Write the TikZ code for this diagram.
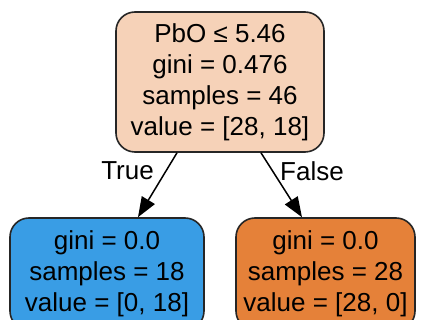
\documentclass[tikz,border=0pt]{standalone}
\usepackage{fontspec}
\setmainfont{Liberation Sans}
\usetikzlibrary{arrows.meta}
\definecolor{rootfill}{RGB}{246,210,184}
\definecolor{truefill}{RGB}{57,157,229}
\definecolor{falsefill}{RGB}{229,129,57}
\tikzset{
    treenode/.style={draw=black!85, line width=1.6pt, rounded corners=19pt,
        align=center, inner sep=0pt, font=\fontsize{26}{31}\selectfont},
    edgelabel/.style={inner sep=0pt, font=\fontsize{26}{31}\selectfont},
    treeedge/.style={line width=1.5pt, -{Triangle[length=20pt,width=15pt]}}
}
\begin{document}
\begin{tikzpicture}[x=1pt, y=-1pt]
                \useasboundingbox (0,0) rectangle (424,320);
                \clip (0,0) rectangle (424,320);
                % split node
                \node[treenode, fill=rootfill, minimum width=208pt, minimum height=140pt] (root) at (220,82)
                    {PbO ≤ 5.46\\gini = 0.476\\samples = 46\\value = [28, 18]};
                % leaves
                \node[treenode, fill=truefill, minimum width=194pt, minimum height=112pt] (lt) at (107,274)
                    {gini = 0.0\\samples = 18\\value = [0, 18]};
                \node[treenode, fill=falsefill, minimum width=179pt, minimum height=112pt] (rt) at (325.5,274)
                    {gini = 0.0\\samples = 28\\value = [28, 0]};
                \draw[treeedge] ([xshift=-43pt]root.south) -- ([xshift=31pt]lt.north);
                \draw[treeedge] ([xshift=41pt]root.south) -- ([xshift=-23.5pt]rt.north);
                \node[edgelabel] (tlabel) at (127.5,171) {True};
                \node[edgelabel] (flabel) at (312,171) {False};
            \end{tikzpicture}
\end{document}
